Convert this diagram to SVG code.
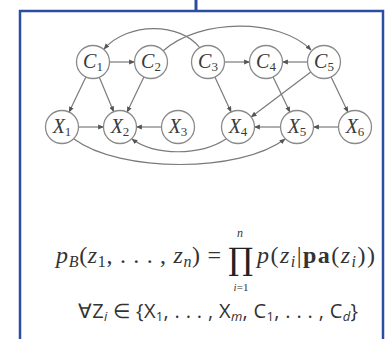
<svg xmlns="http://www.w3.org/2000/svg" width="391" height="339" viewBox="0 0 391 339">
<style>
.n circle{fill:#fff;stroke:#8a8a8a;stroke-width:1.3}
.n text{font-family:"Liberation Serif",serif;font-style:italic;font-size:20px;fill:#3a3a3a;text-anchor:middle}
.n tspan{font-size:13px;font-style:normal}
.e{fill:none;stroke:#7a7a7a;stroke-width:1.2;marker-end:url(#ah)}
.m{font-family:"Liberation Serif",serif;fill:#333;font-size:24px}
.i{font-style:italic}
.s{font-family:"Open Sans","Liberation Sans",sans-serif;fill:#333;font-size:20px}
</style>
<defs>
<marker id="ah" viewBox="0 0 10 10" refX="9" refY="5" markerWidth="6" markerHeight="6" markerUnits="userSpaceOnUse" orient="auto">
<path d="M0,1 L10,5 L0,9 z" fill="#555"/>
</marker>
</defs>
<rect width="391" height="339" fill="#fff"/>
<rect x="20" y="11" width="363" height="345" fill="none" stroke="#2b4ea2" stroke-width="2.5"/>
<line x1="196" y1="0" x2="196" y2="11" stroke="#2b4ea2" stroke-width="3"/>
<g id="connectors">
<line class="e" x1="109.5" y1="62" x2="134.5" y2="62"/>
<line class="e" x1="224.5" y1="62" x2="249.5" y2="62"/>
<line class="e" x1="307.5" y1="62" x2="282.5" y2="62"/>
<line class="e" x1="78.5" y1="127" x2="103.5" y2="127"/>
<line class="e" x1="161.5" y1="127" x2="136.5" y2="127"/>
<line class="e" x1="280.5" y1="127" x2="254.5" y2="127"/>
<line class="e" x1="338.5" y1="127" x2="313.5" y2="127"/>
<line class="e" x1="85.9" y1="76.9" x2="69.1" y2="112.1"/>
<line class="e" x1="99.3" y1="77.2" x2="113.7" y2="111.8"/>
<line class="e" x1="143.9" y1="76.9" x2="127.1" y2="112.1"/>
<line class="e" x1="214.9" y1="77" x2="231.1" y2="112"/>
<line class="e" x1="273.1" y1="76.9" x2="289.9" y2="112.1"/>
<line class="e" x1="310.8" y1="72" x2="251.2" y2="117"/>
<line class="e" x1="331.1" y1="76.9" x2="347.9" y2="112.1"/>
<path class="e" d="M200,48 C180,22 128,22 104,49"/>
<path class="e" d="M163,51 C200,18 280,18 311,50"/>
<path class="e" d="M226,139 C200,156 155,156 132,139"/>
<path class="e" d="M74,139 C120,173 240,173 285,139"/>
</g>
<g id="C1" class="n"><circle cx="93" cy="62" r="16.5"/><text x="93" y="68">C<tspan dy="3">1</tspan></text></g>
<g id="C2" class="n"><circle cx="151" cy="62" r="16.5"/><text x="151" y="68">C<tspan dy="3">2</tspan></text></g>
<g id="C3" class="n"><circle cx="208" cy="62" r="16.5"/><text x="208" y="68">C<tspan dy="3">3</tspan></text></g>
<g id="C4" class="n"><circle cx="266" cy="62" r="16.5"/><text x="266" y="68">C<tspan dy="3">4</tspan></text></g>
<g id="C5" class="n"><circle cx="324" cy="62" r="16.5"/><text x="324" y="68">C<tspan dy="3">5</tspan></text></g>
<g id="X1" class="n"><circle cx="62" cy="127" r="16.5"/><text x="62" y="133">X<tspan dy="3">1</tspan></text></g>
<g id="X2" class="n"><circle cx="120" cy="127" r="16.5"/><text x="120" y="133">X<tspan dy="3">2</tspan></text></g>
<g id="X3" class="n"><circle cx="178" cy="127" r="16.5"/><text x="178" y="133">X<tspan dy="3">3</tspan></text></g>
<g id="X4" class="n"><circle cx="238" cy="127" r="16.5"/><text x="238" y="133">X<tspan dy="3">4</tspan></text></g>
<g id="X5" class="n"><circle cx="297" cy="127" r="16.5"/><text x="297" y="133">X<tspan dy="3">5</tspan></text></g>
<g id="X6" class="n"><circle cx="355" cy="127" r="16.5"/><text x="355" y="133">X<tspan dy="3">6</tspan></text></g>
<g id="formula">
<text class="m" x="56" y="263" textLength="165" lengthAdjust="spacing"><tspan class="i">p</tspan><tspan class="i" font-size="16" dy="4">B</tspan><tspan dy="-4">(</tspan><tspan class="i">z</tspan><tspan font-size="16" dy="4">1</tspan><tspan dy="-4">, . . . , </tspan><tspan class="i">z</tspan><tspan class="i" font-size="16" dy="4">n</tspan><tspan dy="-4">) =</tspan></text>
<text x="240.5" y="270" font-family="DejaVu Serif" font-size="31" fill="#222" text-anchor="middle">∏</text>
<text class="m i" x="240" y="237" style="font-size:12px" text-anchor="middle">n</text>
<text class="m" x="241" y="291" style="font-size:11px" text-anchor="middle"><tspan class="i">i</tspan>=1</text>
<text class="m" x="257" y="263" textLength="118" lengthAdjust="spacing"><tspan class="i">p</tspan>(<tspan class="i">z</tspan><tspan class="i" font-size="16" dy="4">i</tspan><tspan dy="-4">|</tspan><tspan font-weight="bold">pa</tspan>(<tspan class="i">z</tspan><tspan class="i" font-size="16" dy="4">i</tspan><tspan dy="-4">))</tspan></text>
<text class="s" x="78" y="318" textLength="280" lengthAdjust="spacing">∀<tspan>Z</tspan><tspan class="i" font-size="13" dy="3">i</tspan><tspan dy="-3"> ∈ {X</tspan><tspan font-size="13" dy="3">1</tspan><tspan dy="-3">, . . . , X</tspan><tspan class="i" font-size="13" dy="3">m</tspan><tspan dy="-3">, C</tspan><tspan font-size="13" dy="3">1</tspan><tspan dy="-3">, . . . , C</tspan><tspan class="i" font-size="13" dy="3">d</tspan><tspan dy="-3">}</tspan></text>
</g>
</svg>
